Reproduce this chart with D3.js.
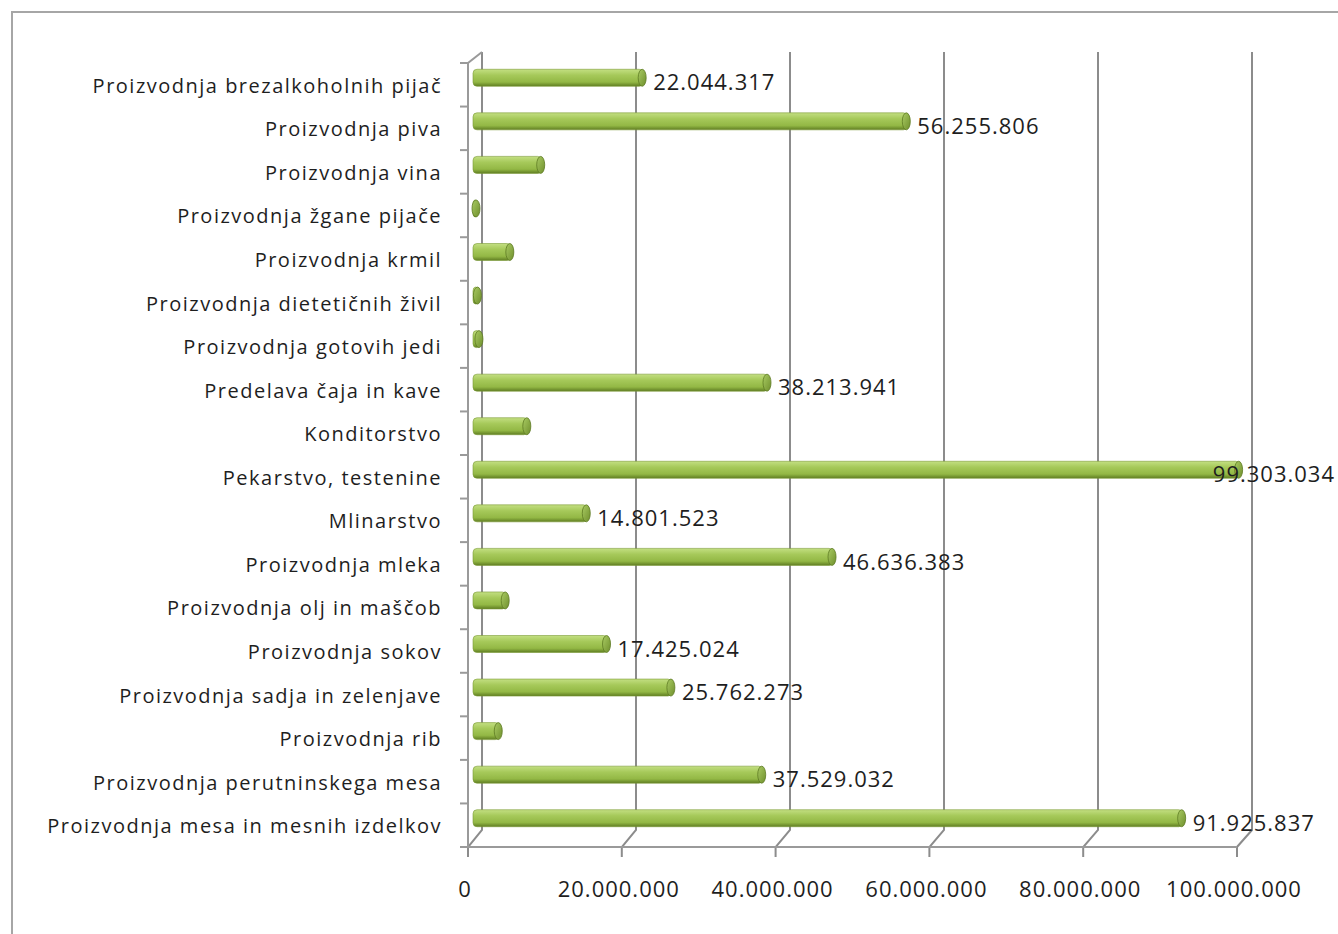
<!DOCTYPE html>
<html>
<head>
<meta charset="utf-8">
<script src="https://cdn.jsdelivr.net/npm/d3@7"></script>
<style>
  body { margin: 0; background: #fff; }
  svg text { font-family: "Open Sans", "Noto Sans", sans-serif; fill: #1e1e1e; }
</style>
</head>
<body>
<svg id="svg" width="1338" height="934"></svg>
<script>
"use strict";

// categories top to bottom
const categories = [
  "Proizvodnja brezalkoholnih pijač",
  "Proizvodnja piva",
  "Proizvodnja vina",
  "Proizvodnja žgane pijače",
  "Proizvodnja krmil",
  "Proizvodnja dietetičnih živil",
  "Proizvodnja gotovih jedi",
  "Predelava čaja in kave",
  "Konditorstvo",
  "Pekarstvo, testenine",
  "Mlinarstvo",
  "Proizvodnja mleka",
  "Proizvodnja olj in maščob",
  "Proizvodnja sokov",
  "Proizvodnja sadja in zelenjave",
  "Proizvodnja rib",
  "Proizvodnja perutninskega mesa",
  "Proizvodnja mesa in mesnih izdelkov"
];
const values = [
  22044317, 56255806, 8900000, 500000, 4900000, 700000, 900000, 38213941, 7100000,
  99303034, 14801523, 46636383, 4300000, 17425024, 25762273, 3400000, 37529032, 91925837
];
// which bars carry a value label
const labelled = [true, true, false, false, false, false, false, true, false,
  true, true, true, false, true, true, false, true, true];
const tickValues = [0, 20000000, 40000000, 60000000, 80000000, 100000000];

const svg = d3.select("svg");
const fmt = v => d3.format(",")(v).replace(/,/g, ".");

// front plane, back plane and the bars in between
const xFront = d3.scaleLinear().domain([0, 1e8]).range([468, 1237]);
const xBack = d3.scaleLinear().domain([0, 1e8]).range([482, 1252]);
const xBar = d3.scaleLinear().domain([0, 1e8]).range([473, 1245]);
const y = d3.scaleBand().domain(categories).range([63, 847]).padding(0);
const backTop = 52, backBottom = 830, frontBottom = 847;
const barH = 17, barShift = -7;

// outer border
svg.append("rect")
    .attr("x", 12).attr("y", 12)
    .attr("width", 1400).attr("height", 1000)
    .attr("fill", "none")
    .attr("stroke", "#a6a6a6")
    .attr("stroke-width", 2);

var defs = svg.append("defs");
var grad = defs.append("linearGradient")
    .attr("id", "barGrad").attr("x1", 0).attr("y1", 0).attr("x2", 0).attr("y2", 1);
grad.append("stop").attr("offset", "0%").attr("stop-color", "#c3df82");
grad.append("stop").attr("offset", "35%").attr("stop-color", "#a6c95a");
grad.append("stop").attr("offset", "75%").attr("stop-color", "#93b845");
grad.append("stop").attr("offset", "100%").attr("stop-color", "#5f7d22");
var capGrad = defs.append("linearGradient")
    .attr("id", "capGrad").attr("x1", 0).attr("y1", 0).attr("x2", 1).attr("y2", 1);
capGrad.append("stop").attr("offset", "0%").attr("stop-color", "#a9cb63");
capGrad.append("stop").attr("offset", "100%").attr("stop-color", "#6f8f2c");

// gridlines on the back wall with slant to front ticks
var grid = svg.append("g").attr("class", "grid");
grid.selectAll("path")
    .data(tickValues)
    .enter()
    .append("path")
        .attr("d", d => "M" + xBack(d) + "," + backTop +
            "V" + backBottom +
            "L" + xFront(d) + "," + frontBottom +
            "V" + (frontBottom + 10))
        .attr("fill", "none")
        .attr("stroke", "#8c8c8c")
        .attr("stroke-width", 2);

// left front axis
var axis = svg.append("g").attr("class", "axis")
    .attr("fill", "none").attr("stroke", "#9a9a9a").attr("stroke-width", 2);
axis.append("path")
    .attr("d", "M" + xFront(0) + "," + frontBottom + "V" + y.range()[0] +
        "L" + xBack(0) + "," + backTop);
axis.append("path")
    .attr("d", "M" + xFront(0) + "," + frontBottom + "H" + xFront(1e8));
axis.selectAll(".ytick")
    .data(d3.range(categories.length + 1))
    .enter()
    .append("line")
        .attr("class", "ytick")
        .attr("x1", xFront(0) - 8).attr("x2", xFront(0))
        .attr("y1", i => y.range()[0] + i * y.step())
        .attr("y2", i => y.range()[0] + i * y.step());

// bars
var bar = svg.append("g").attr("class", "bars")
    .selectAll("g")
    .data(categories)
    .enter()
    .append("g");

bar.append("rect")
    .attr("x", xBar(0))
    .attr("y", d => y(d) + y.bandwidth() / 2 + barShift - barH / 2)
    .attr("width", (d, i) => Math.max(xBar(values[i]) - xBar(0), 4))
    .attr("height", barH)
    .attr("rx", 4)
    .attr("fill", "url(#barGrad)")
    .attr("stroke", "#7a9a35")
    .attr("stroke-width", 0.6);

bar.append("ellipse")
    .attr("cx", (d, i) => Math.max(xBar(values[i]), xBar(0) + 4) - 1)
    .attr("cy", d => y(d) + y.bandwidth() / 2 + barShift)
    .attr("rx", 4)
    .attr("ry", barH / 2)
    .attr("fill", "url(#capGrad)")
    .attr("stroke", "#5d7a22")
    .attr("stroke-width", 0.8);

// category labels
svg.append("g").attr("class", "ylabels")
    .selectAll("text")
    .data(categories)
    .enter()
    .append("text")
        .attr("x", 442)
        .attr("y", d => y(d) + y.bandwidth() / 2 + 1)
        .attr("dy", "0.35em")
        .attr("text-anchor", "end")
        .attr("font-size", 20)
        .attr("letter-spacing", 1.5)
        .text(d => d);

// value labels, pushed back inside the chart area when they would run out
const chartRight = 1335;
svg.append("g").attr("class", "vlabels")
    .selectAll("text")
    .data(categories.map((c, i) => ({ c: c, v: values[i], show: labelled[i] })).filter(d => d.show))
    .enter()
    .append("text")
        .attr("y", d => y(d.c) + y.bandwidth() / 2 - 2)
        .attr("dy", "0.35em")
        .attr("font-size", 22)
        .attr("letter-spacing", 1)
        .text(d => fmt(d.v))
        .attr("x", function(d) {
            var w = this.getComputedTextLength();
            return Math.min(xBar(d.v) + 10, chartRight - w);
        });

// x tick labels
svg.append("g").attr("class", "xlabels")
    .selectAll("text")
    .data(tickValues)
    .enter()
    .append("text")
        .attr("x", d => xFront(d) - 3)
        .attr("y", 889)
        .attr("dy", "0.35em")
        .attr("text-anchor", "middle")
        .attr("font-size", 22)
        .attr("letter-spacing", 1)
        .text(d => fmt(d));
</script>
</body>
</html>
